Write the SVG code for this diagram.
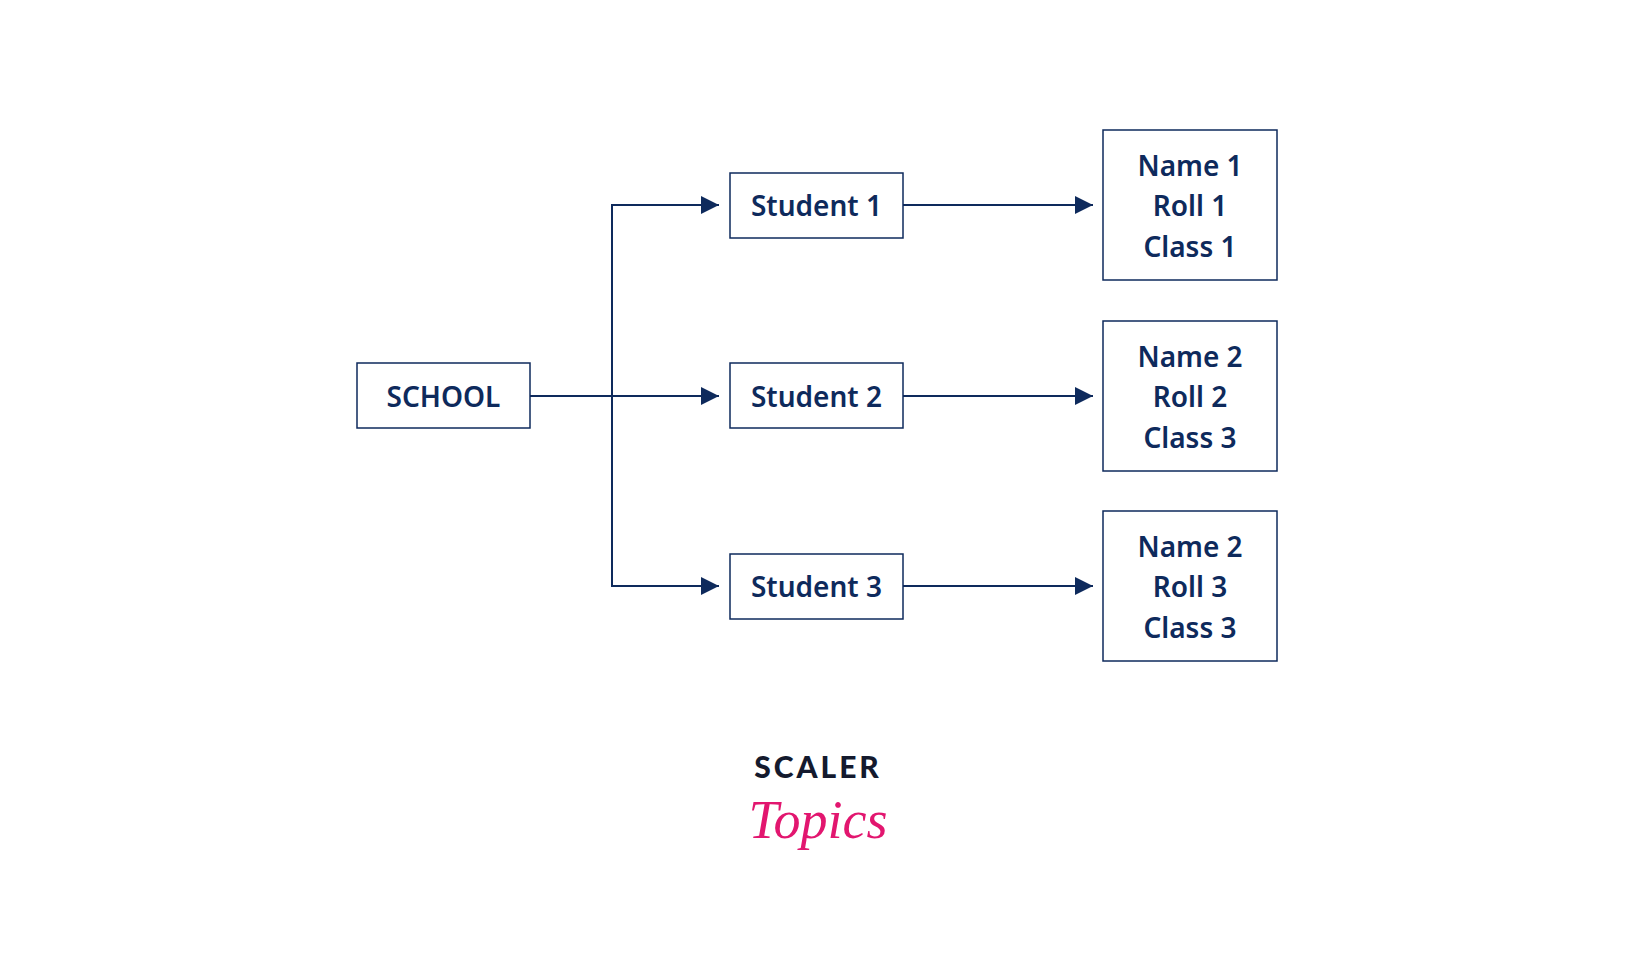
<svg xmlns="http://www.w3.org/2000/svg" width="1633" height="960" viewBox="0 0 1633 960">
<style>
.box{fill:#fff;stroke:#0e2a5c;stroke-width:1.5}
.t{font-family:"Noto Sans",sans-serif;font-weight:600;font-size:28px;fill:#0e2a5c;text-anchor:middle;dominant-baseline:central}
.c{fill:none;stroke:#0e2a5c;stroke-width:2}
</style>
<defs>
<marker id="b" viewBox="0 0 10 10" refX="10" refY="5" markerWidth="18" markerHeight="18" markerUnits="userSpaceOnUse" orient="auto"><path d="M0,0L10,5L0,10Z" fill="#0e2a5c"/></marker></defs>
<rect width="1633" height="960" fill="#fff"/>
<g id="connectors">
<path class="c" d="M530,396H719" marker-end="url(#b)"/>
<path class="c" d="M612,396V205H719" marker-end="url(#b)"/>
<path class="c" d="M612,396V586H719" marker-end="url(#b)"/>
<path class="c" d="M903,205H1093" marker-end="url(#b)"/>
<path class="c" d="M903,396H1093" marker-end="url(#b)"/>
<path class="c" d="M903,586H1093" marker-end="url(#b)"/>
</g>
<g id="school"><rect class="box" x="357" y="363" width="173" height="65"/><text class="t" x="443.5" y="396">SCHOOL</text></g>
<g id="student1"><rect class="box" x="730" y="173" width="173" height="65"/><text class="t" x="816.5" y="205">Student 1</text></g>
<g id="student2"><rect class="box" x="730" y="363" width="173" height="65"/><text class="t" x="816.5" y="396">Student 2</text></g>
<g id="student3"><rect class="box" x="730" y="554" width="173" height="65"/><text class="t" x="816.5" y="586">Student 3</text></g>
<g id="info1"><rect class="box" x="1103" y="130" width="174" height="150"/><text class="t" x="1190" y="165">Name 1</text><text class="t" x="1190" y="205">Roll 1</text><text class="t" x="1190" y="246">Class 1</text></g>
<g id="info2"><rect class="box" x="1103" y="321" width="174" height="150"/><text class="t" x="1190" y="356">Name 2</text><text class="t" x="1190" y="396">Roll 2</text><text class="t" x="1190" y="437">Class 3</text></g>
<g id="info3"><rect class="box" x="1103" y="511" width="174" height="150"/><text class="t" x="1190" y="546">Name 2</text><text class="t" x="1190" y="586">Roll 3</text><text class="t" x="1190" y="627">Class 3</text></g>
<g id="logo">
<text x="818" y="778" font-family="Lato,sans-serif" font-weight="900" font-size="30" letter-spacing="3" fill="#141a2e" text-anchor="middle">SCALER</text>
<text x="818" y="838" font-family="'Liberation Serif',serif" font-style="italic" font-size="54" fill="#e2166f" text-anchor="middle">Topics</text>
</g>
</svg>
